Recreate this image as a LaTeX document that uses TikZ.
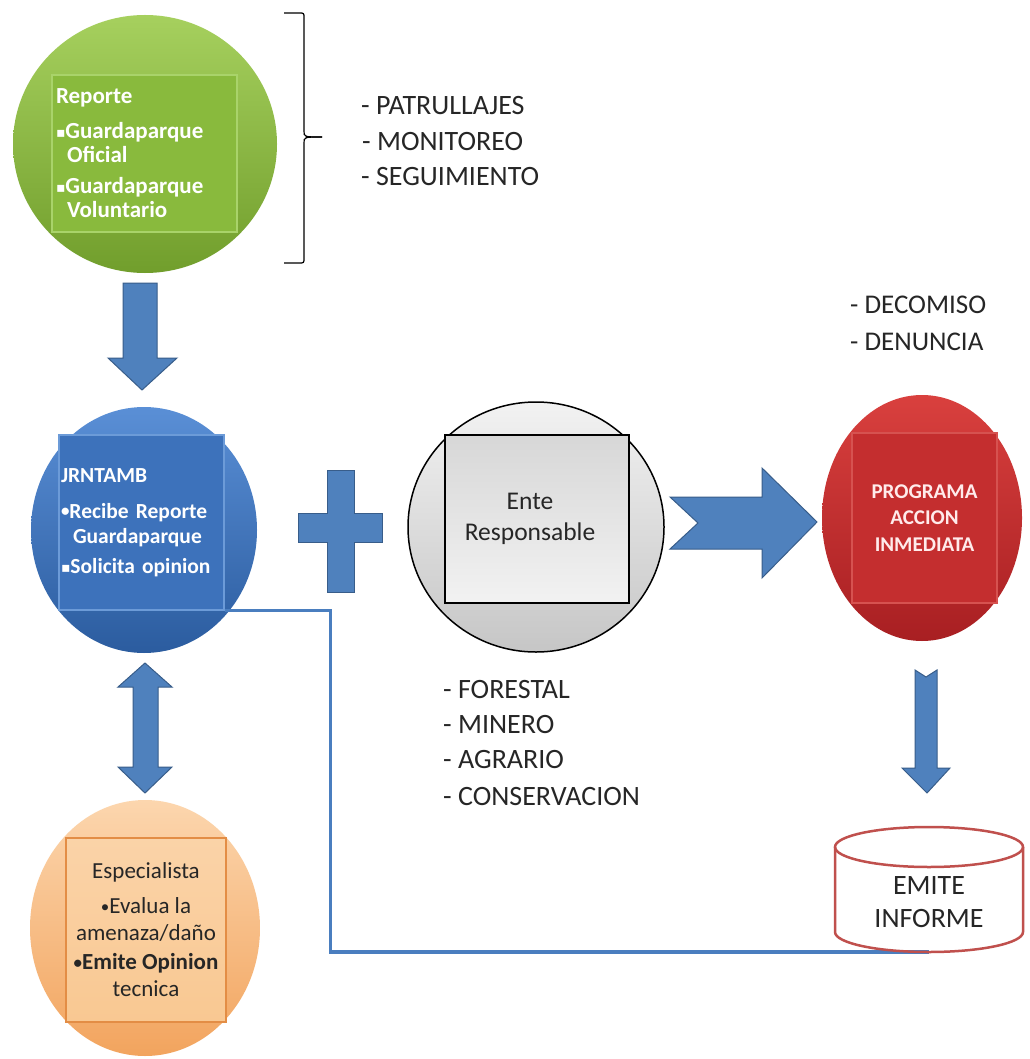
\documentclass[tikz,border=0pt]{standalone}
\usepackage{fontspec}
\setmainfont{Carlito}
\newfontfamily\symf{DejaVu Sans}
\usetikzlibrary{shapes.geometric}
\newcommand\mybul{\raisebox{1.5pt}{\fontsize{17}{0}\selectfont•}}
\newcommand\mysqb{\raisebox{1pt}{\symf\fontsize{14}{0}\selectfont ▪}}
\definecolor{grnL}{HTML}{A6D05E}
\definecolor{grnD}{HTML}{719E2C}
\definecolor{grnS}{HTML}{89BA3D}
\definecolor{grnB}{HTML}{A9D36A}
\definecolor{bluL}{HTML}{5A8FD6}
\definecolor{bluD}{HTML}{2B5C9F}
\definecolor{bluS}{HTML}{3D72BB}
\definecolor{bluB}{HTML}{6C9BD8}
\definecolor{gryL}{HTML}{F2F2F2}
\definecolor{gryD}{HTML}{C6C6C6}
\definecolor{redL}{HTML}{D9403E}
\definecolor{redD}{HTML}{A81F22}
\definecolor{redS}{HTML}{C42E2F}
\definecolor{redB}{HTML}{D65250}
\definecolor{orgL}{HTML}{FCD6AE}
\definecolor{orgD}{HTML}{F2A45E}
\definecolor{orgS}{HTML}{F9C892}
\definecolor{orgB}{HTML}{E38D45}
\definecolor{arw}{HTML}{4F81BD}
\definecolor{arwD}{HTML}{385D8A}
\definecolor{conn}{HTML}{4A7EBF}
\definecolor{cylc}{HTML}{C0504D}
\definecolor{txt}{HTML}{262626}
\begin{document}
\begin{tikzpicture}[x=1pt,y=-1pt,
  circ/.style={ellipse, inner sep=0pt},
  sq/.style={rectangle, inner sep=0pt, inner xsep=4pt, line width=1.2pt},
  barrow/.style={fill=arw, draw=arwD, line width=1pt, line join=miter},
  conline/.style={draw=conn, line width=3.5pt},
  listtxt/.style={anchor=west, inner sep=0pt, text=txt, font=\fontsize{28}{34}\selectfont},
  cylline/.style={draw=cylc, line width=2.5pt}]
\useasboundingbox (0,0) rectangle (1029,1059);
\fill[white] (0,0) rectangle (1029,1059);

% green
\node[circ, top color=grnL, bottom color=grnD, minimum width=264, minimum height=258] (green) at (145,144) {};
\node[sq, fill=grnS, draw=grnB, minimum width=185, minimum height=157, text width=177, align=left, text=white,
  font=\bfseries\fontsize{23}{24.5}\selectfont] (greenbox) at (144.5,153.5)
  {Reporte\\[10pt]\mysqb Guardaparque\\\hspace*{11pt}Oficial\\[6pt]\mysqb Guardaparque\\\hspace*{11pt}Voluntario};

% brace
\draw[black, line width=1.2pt] (284,13) -- (299,13) .. controls (304,13) .. (304,18) -- (304,131) .. controls (304,137) .. (322,137);
\draw[black, line width=1.2pt] (284,263) -- (299,263) .. controls (304,263) .. (304,258) -- (304,143) .. controls (304,137) .. (322,137);

\node[listtxt] (l1) at (361,106) {- PATRULLAJES};
\node[listtxt] (l2) at (362,142) {- MONITOREO};
\node[listtxt] (l3) at (361,177) {- SEGUIMIENTO};

% arrow green -> blue
\draw[barrow] (123,283) -- (157,283) -- (157,358) -- (177,358) -- (142,390) -- (108,358) -- (123,358) -- cycle;

% blue
\node[circ, top color=bluL, bottom color=bluD, minimum width=226, minimum height=246] (blue) at (144,530) {};
\node[sq, fill=bluS, draw=bluB, minimum width=165, minimum height=175, text width=161, inner xsep=2pt, align=left, text=white,
  font=\bfseries\fontsize{21.5}{25}\selectfont] (bluebox) at (141.5,522.5)
  {JRNTAMB\\[11pt]\mybul Recibe Reporte\\\hspace*{12pt}Guardaparque\\[5pt]\mysqb Solicita opinion};

% plus
\draw[barrow] (327,470) -- (354,470) -- (354,513) -- (382,513) -- (382,542) -- (354,542) -- (354,592) -- (327,592) -- (327,542) -- (298,542) -- (298,513) -- (327,513) -- cycle;

% gray
\node[circ, top color=gryL, bottom color=gryD, draw=black, line width=1.5pt, minimum width=256, minimum height=250] (gray) at (536,527) {};
\node[sq, top color=gryD!70!white, bottom color=gryL, draw=black, line width=1.5pt, minimum width=184, minimum height=168, align=center, text=txt,
  font=\fontsize{25.5}{31}\selectfont] (graybox) at (537,519) {\hspace*{-14pt}Ente\\\hspace*{-14pt}Responsable};

% right arrow
\draw[barrow] (670,497) -- (762,497) -- (762,468) -- (817,522) -- (762,578) -- (762,549) -- (670,549) -- (698,523) -- cycle;

% red
\node[circ, top color=redL, bottom color=redD, minimum width=200, minimum height=246] (red) at (922,518) {};
\node[sq, fill=redS, draw=redB, minimum width=145, minimum height=170, align=center, text=white!92!red,
  font=\bfseries\fontsize{21}{26.5}\selectfont] (redbox) at (924.5,518) {PROGRAMA\\ACCION\\INMEDIATA};

\node[listtxt, font=\fontsize{27}{34}\selectfont] (d1) at (850,305) {- DECOMISO};
\node[listtxt, font=\fontsize{27}{34}\selectfont] (d2) at (850,342) {- DENUNCIA};

% right down arrow
\draw[barrow] (915,670) -- (926,677) -- (937,670) -- (937,768) -- (950,768) -- (927,793) -- (902,768) -- (915,768) -- cycle;

% double arrow
\draw[barrow] (145,663) -- (172,687) -- (158,687) -- (158,767) -- (172,767) -- (145,793) -- (118,767) -- (133,767) -- (133,687) -- (118,687) -- cycle;

% orange
\node[circ, top color=orgL, bottom color=orgD, minimum width=230, minimum height=256] (orange) at (145,928) {};
\node[sq, top color=orgS!80!white, bottom color=orgS, draw=orgB, minimum width=160, minimum height=184, align=center, text=txt,
  font=\fontsize{23}{27}\selectfont] (orangebox) at (146,930)
  {Especialista\\[8pt]\mybul Evalua la\\amenaza/daño\\[2pt]\textbf{\mybul Emite Opinion}\\tecnica};

% list
\node[listtxt] (f1) at (443,690) {- FORESTAL};
\node[listtxt] (f2) at (443,725) {- MINERO};
\node[listtxt] (f3) at (443,760) {- AGRARIO};
\node[listtxt] (f4) at (443,797) {- CONSERVACION};

% cylinder
\coordinate (cylb) at (929,952);
\fill[white] (835,847) -- (835,932) arc[start angle=180, end angle=0, x radius=94, y radius=20] -- (1023,847) -- cycle;
% connector
\draw[conline] (bluebox.south east) -- ++(106,0) |- (cylb);
\draw[cylline] (835,847) -- (835,932) arc[start angle=180, end angle=0, x radius=94, y radius=20] -- (1023,847);
\draw[cylline] (929,847) ellipse[x radius=94, y radius=20];
\node[text=txt, align=center, font=\fontsize{28}{33}\selectfont] (cyl) at (929,902) {EMITE\\INFORME};
\end{tikzpicture}
\end{document}
